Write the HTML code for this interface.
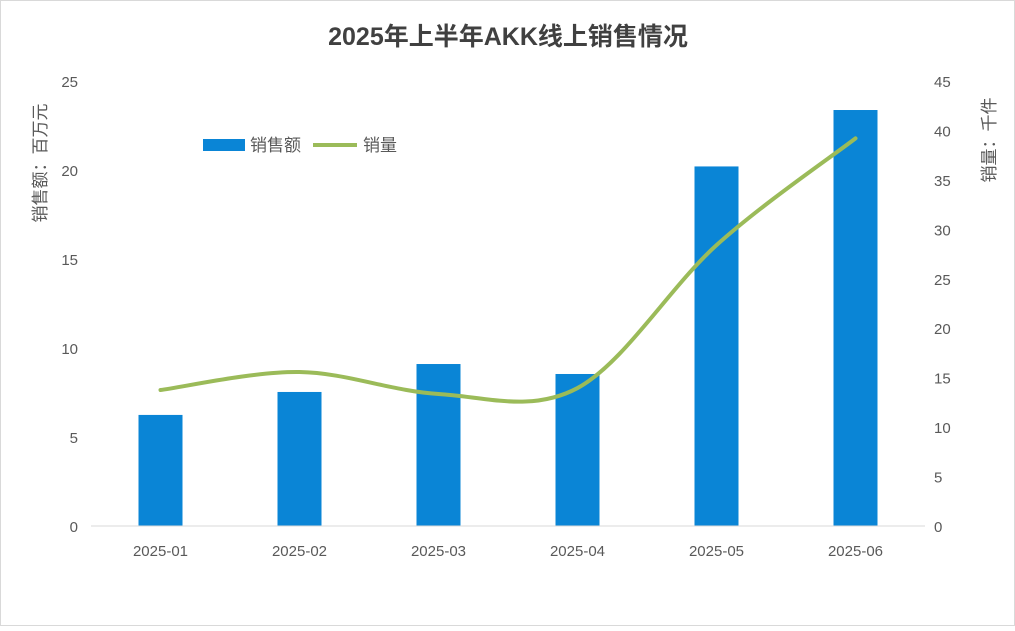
<!DOCTYPE html>
<html><head><meta charset="utf-8"><style>
body{margin:0;background:#fff;}
svg text{font-family:"Liberation Sans","Noto Sans CJK SC",sans-serif;}
</style></head><body>
<svg width="1015" height="626" viewBox="0 0 1015 626">
<rect x="0.5" y="0.5" width="1014" height="625" fill="#fff" stroke="#d9d9d9"/>
<text x="508" y="45" text-anchor="middle" font-size="25" font-weight="bold" fill="#404040">2025年上半年AKK线上销售情况</text>
<g id="plot"></g>
<text transform="translate(46,163) rotate(-90)" text-anchor="middle" font-size="17" fill="#595959">销售额：百万元</text>
<text transform="translate(995,140) rotate(-90)" text-anchor="middle" font-size="17" fill="#595959">销量：千件</text>
<g>
<rect x="203" y="139" width="42" height="12" fill="#0a85d6"/>
<text x="250" y="151" font-size="17" fill="#595959">销售额</text>
<line x1="313" y1="145" x2="357" y2="145" stroke="#9bbb59" stroke-width="4"/>
<text x="363" y="151" font-size="17" fill="#595959">销量</text>
</g>
</svg>
<script>
const categories=["2025-01","2025-02","2025-03","2025-04","2025-05","2025-06"];
const salesValues=[6.24,7.53,9.1,8.54,20.2,23.37];
const volumeValues=[13.75,15.57,13.35,13.95,28.4,39.2];
const leftTicks=[0,5,10,15,20,25];
const rightTicks=[0,5,10,15,20,25,30,35,40,45];
const NS="http://www.w3.org/2000/svg";
const g=document.getElementById('plot');
const X0=91,X1=925,Y0=526,Y1=81;
const step=(X1-X0)/categories.length;
const xc=i=>X0+step*(i+0.5);
const yL=v=>Y0-(v/25)*(Y0-Y1);
const yR=v=>Y0-(v/45)*(Y0-Y1);
function mk(t,a){const e=document.createElementNS(NS,t);for(const k in a)e.setAttribute(k,a[k]);g.appendChild(e);return e;}
leftTicks.forEach(v=>{const t=mk('text',{x:78,y:yL(v)+6,'text-anchor':'end','font-size':15,fill:'#595959'});t.textContent=v;

});
rightTicks.forEach(v=>{const t=mk('text',{x:934,y:yR(v)+6,'font-size':15,fill:'#595959'});t.textContent=v;

});
categories.forEach((c,i)=>{const t=mk('text',{x:xc(i),y:556,'text-anchor':'middle','font-size':15,fill:'#595959'});t.textContent=c;

});
salesValues.forEach((v,i)=>{const r=mk('rect',{x:xc(i)-22,y:yL(v),width:44,height:Y0-yL(v),fill:'#0a85d6'});

});
const ax=mk('line',{x1:X0,y1:Y0,x2:X1,y2:Y0,stroke:'#d9d9d9','stroke-width':1});


const pts=volumeValues.map((v,i)=>[xc(i),yR(v)]);
let d='M'+pts[0][0]+','+pts[0][1];
for(let i=0;i<pts.length-1;i++){const p0=pts[Math.max(0,i-1)],p1=pts[i],p2=pts[i+1],p3=pts[Math.min(pts.length-1,i+2)];const k=1/6;
d+=' C'+(p1[0]+(p2[0]-p0[0])*k)+','+(p1[1]+(p2[1]-p0[1])*k)+' '+(p2[0]-(p3[0]-p1[0])*k)+','+(p2[1]-(p3[1]-p1[1])*k)+' '+p2[0]+','+p2[1];}
const ln=mk('path',{d:d,fill:'none',stroke:'#9bbb59','stroke-width':4,'stroke-linecap':'round'});


</script>
</body></html>
